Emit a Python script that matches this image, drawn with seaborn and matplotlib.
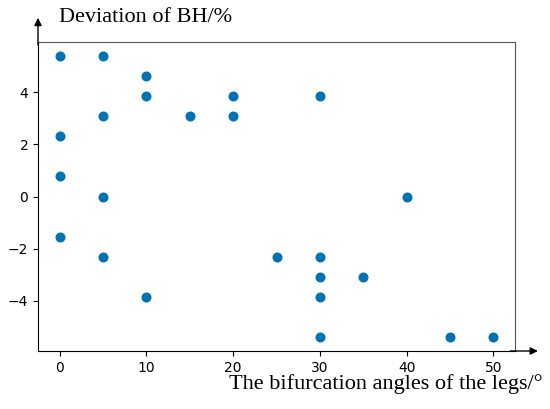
import numpy as np
import pandas as pd
import matplotlib
matplotlib.use("Agg")
import matplotlib.pyplot as plt
import seaborn as sns

# ===== data =====
angles = [0, 5, 10, 10, 20, 30, 5, 15, 20, 0, 0, 5, 40, 0,
          5, 25, 30, 30, 35, 10, 30, 30, 45, 50]
deviation = [5.38, 5.38, 4.62, 3.85, 3.85, 3.85, 3.08, 3.08, 3.08, 2.31, 0.77, 0.0, 0.0, -1.54,
             -2.31, -2.31, -2.31, -3.08, -3.08, -3.85, -3.85, -5.38, -5.38, -5.38]
xlabel = "The bifurcation angles of the legs/°"
ylabel = "Deviation of BH/%"

df = pd.DataFrame({"angle": angles, "dev": deviation})

# ===== plot =====
fig = plt.figure(figsize=(5.5, 4.09), dpi=100)
ax = fig.add_axes([38/550, 1 - 351/409, 477/550, 309/409])

dot_color = sns.color_palette("colorblind")[0]
sns.scatterplot(data=df, x="angle", y="dev", color=dot_color, s=52,
                linewidth=0, ax=ax)

ax.set_xticks([0, 10, 20, 30, 40, 50])
ax.set_yticks([-4, -2, 0, 2, 4])
ax.set_xlabel("")
ax.set_ylabel("")
ax.tick_params(labelsize=10)

# grey top/right, black left/bottom
for side in ["top", "right"]:
    ax.spines[side].set_color("#555555")
for side in ["left", "bottom"]:
    ax.spines[side].set_color("black")

# arrows on the axes
ax.annotate("", xy=(0, 1.078), xytext=(0, 0.99), xycoords="axes fraction",
            arrowprops=dict(arrowstyle="-|>", color="black", lw=1.0, mutation_scale=11,
                            shrinkA=0, shrinkB=0), annotation_clip=False)
ax.annotate("", xy=(1.048, 0), xytext=(0.99, 0), xycoords="axes fraction",
            arrowprops=dict(arrowstyle="-|>", color="black", lw=1.0, mutation_scale=11,
                            shrinkA=0, shrinkB=0), annotation_clip=False)

# axis titles in serif
fig.text(59/550, 1 - 17/409, ylabel, family="Liberation Serif", fontsize=16,
         ha="left", va="center")
fig.text(543/550, 1 - 384/409, xlabel, family="Liberation Serif", fontsize=16,
         ha="right", va="center")

plt.savefig("out.png", dpi=100)
